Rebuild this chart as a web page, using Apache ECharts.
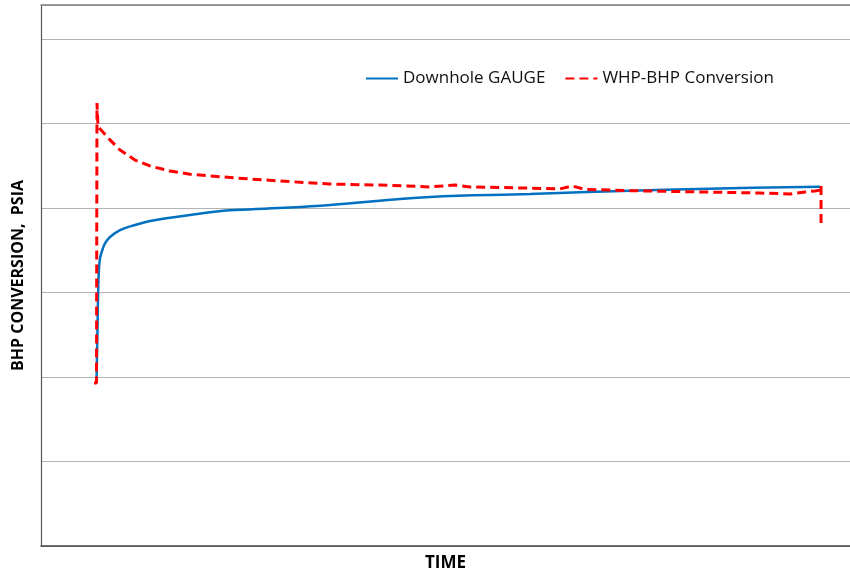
<!DOCTYPE html>
<html>
<head>
<meta charset="utf-8">
<script src="https://cdn.jsdelivr.net/npm/echarts@6/dist/echarts.min.js"></script>
<style>html,body{margin:0;padding:0;background:#fff}#c{width:850px;height:575px}</style>
</head>
<body>
<div id="c"></div>
<script>
// Time (arbitrary units 0..100) and pressure (psia, arbitrary scale)
const gaugeTime = [6.86, 6.98, 7.08, 7.17, 7.29, 7.54, 7.91, 8.53, 9.77, 11.62, 13.47, 15.95, 18.42, 20.89, 23.98, 30.78, 35.72, 48.08, 60.44, 72.8, 83.93, 96.29];
const gaugeBHP  = [964, 1278, 1540, 1640, 1700, 1745, 1790, 1828, 1869, 1899, 1922, 1942, 1958, 1974, 1987, 2002, 2017, 2065, 2082, 2102, 2115, 2125];

const convTime = [6.55, 6.86, 6.92, 6.92, 7.05, 7.29, 8.53, 9.77, 11.62, 13.47, 15.95, 18.42, 20.89, 23.98, 29.54, 35.72, 41.9, 48.08, 51.17, 53.03, 59.2, 64.15, 65.64, 67.26, 72.8, 81.46, 88.88, 92.58, 94.44, 95.67, 96.42, 96.42, 96.42];
const convBHP  = [964, 964, 964, 2620, 2480, 2472, 2402, 2342, 2283, 2248, 2218, 2199, 2189, 2177, 2159, 2141, 2135, 2124, 2135, 2124, 2118, 2112, 2130, 2109, 2102, 2094, 2088, 2082, 2094, 2100, 2106, 2129, 1887];

const seriesNames = ['Downhole GAUGE', 'WHP-BHP Conversion'];
const xTitle = 'TIME';
const yTitle = 'BHP CONVERSION,  PSIA';

const zip = (a, b) => a.map((v, i) => [v, b[i]]);

const chart = echarts.init(document.getElementById('c'), null, {renderer: 'canvas'});
chart.setOption({
  animation: false,
  backgroundColor: '#ffffff',
  grid: {left: 41, top: 5, right: 0, bottom: 29, containLabel: false, outerBoundsMode: 'none'},
  legend: {
    left: 365, top: 70, padding: 0,
    itemWidth: 32, itemHeight: 14, itemGap: 19,
    itemStyle: {opacity: 0},
    textStyle: {fontFamily: 'Open Sans', fontSize: 17, color: '#111'},
    data: seriesNames
  },
  xAxis: [{
    type: 'value', min: 0, max: 100,
    name: xTitle, nameLocation: 'middle', nameGap: 9,
    nameTextStyle: {fontFamily: 'Open Sans', fontWeight: 'bold', fontSize: 17, color: '#000'},
    axisLine: {show: true, lineStyle: {color: '#404040', width: 1.5}},
    axisTick: {show: false}, axisLabel: {show: false}, splitLine: {show: false}
  }, {
    type: 'value', min: 0, max: 100, position: 'top',
    axisLine: {show: true, lineStyle: {color: '#808080', width: 1.5}},
    axisTick: {show: false}, axisLabel: {show: false}, splitLine: {show: false}
  }],
  yAxis: {
    type: 'value', min: 0, max: 3200, interval: 500,
    name: yTitle, nameLocation: 'middle', nameGap: 15, nameRotate: 90,
    nameTextStyle: {fontFamily: 'Open Sans', fontWeight: 'bold', fontSize: 16, color: '#000'},
    axisLine: {show: true, lineStyle: {color: '#595959', width: 1.2}},
    axisTick: {show: false}, axisLabel: {show: false},
    splitLine: {show: true, lineStyle: {color: '#b3b3b3', width: 1.2}}
  },
  series: [{
    name: seriesNames[0], type: 'line', showSymbol: false, symbol: 'none',
    data: zip(gaugeTime, gaugeBHP), smooth: 0.4,
    lineStyle: {color: '#0070C0', width: 2.5}, itemStyle: {color: '#0070C0'}, z: 2
  }, {
    name: seriesNames[1], type: 'line', showSymbol: false, symbol: 'none',
    data: zip(convTime, convBHP),
    lineStyle: {color: '#FF0000', width: 3, type: [9, 5]}, itemStyle: {color: '#FF0000'}, z: 3
  }]
});
</script>
</body>
</html>
